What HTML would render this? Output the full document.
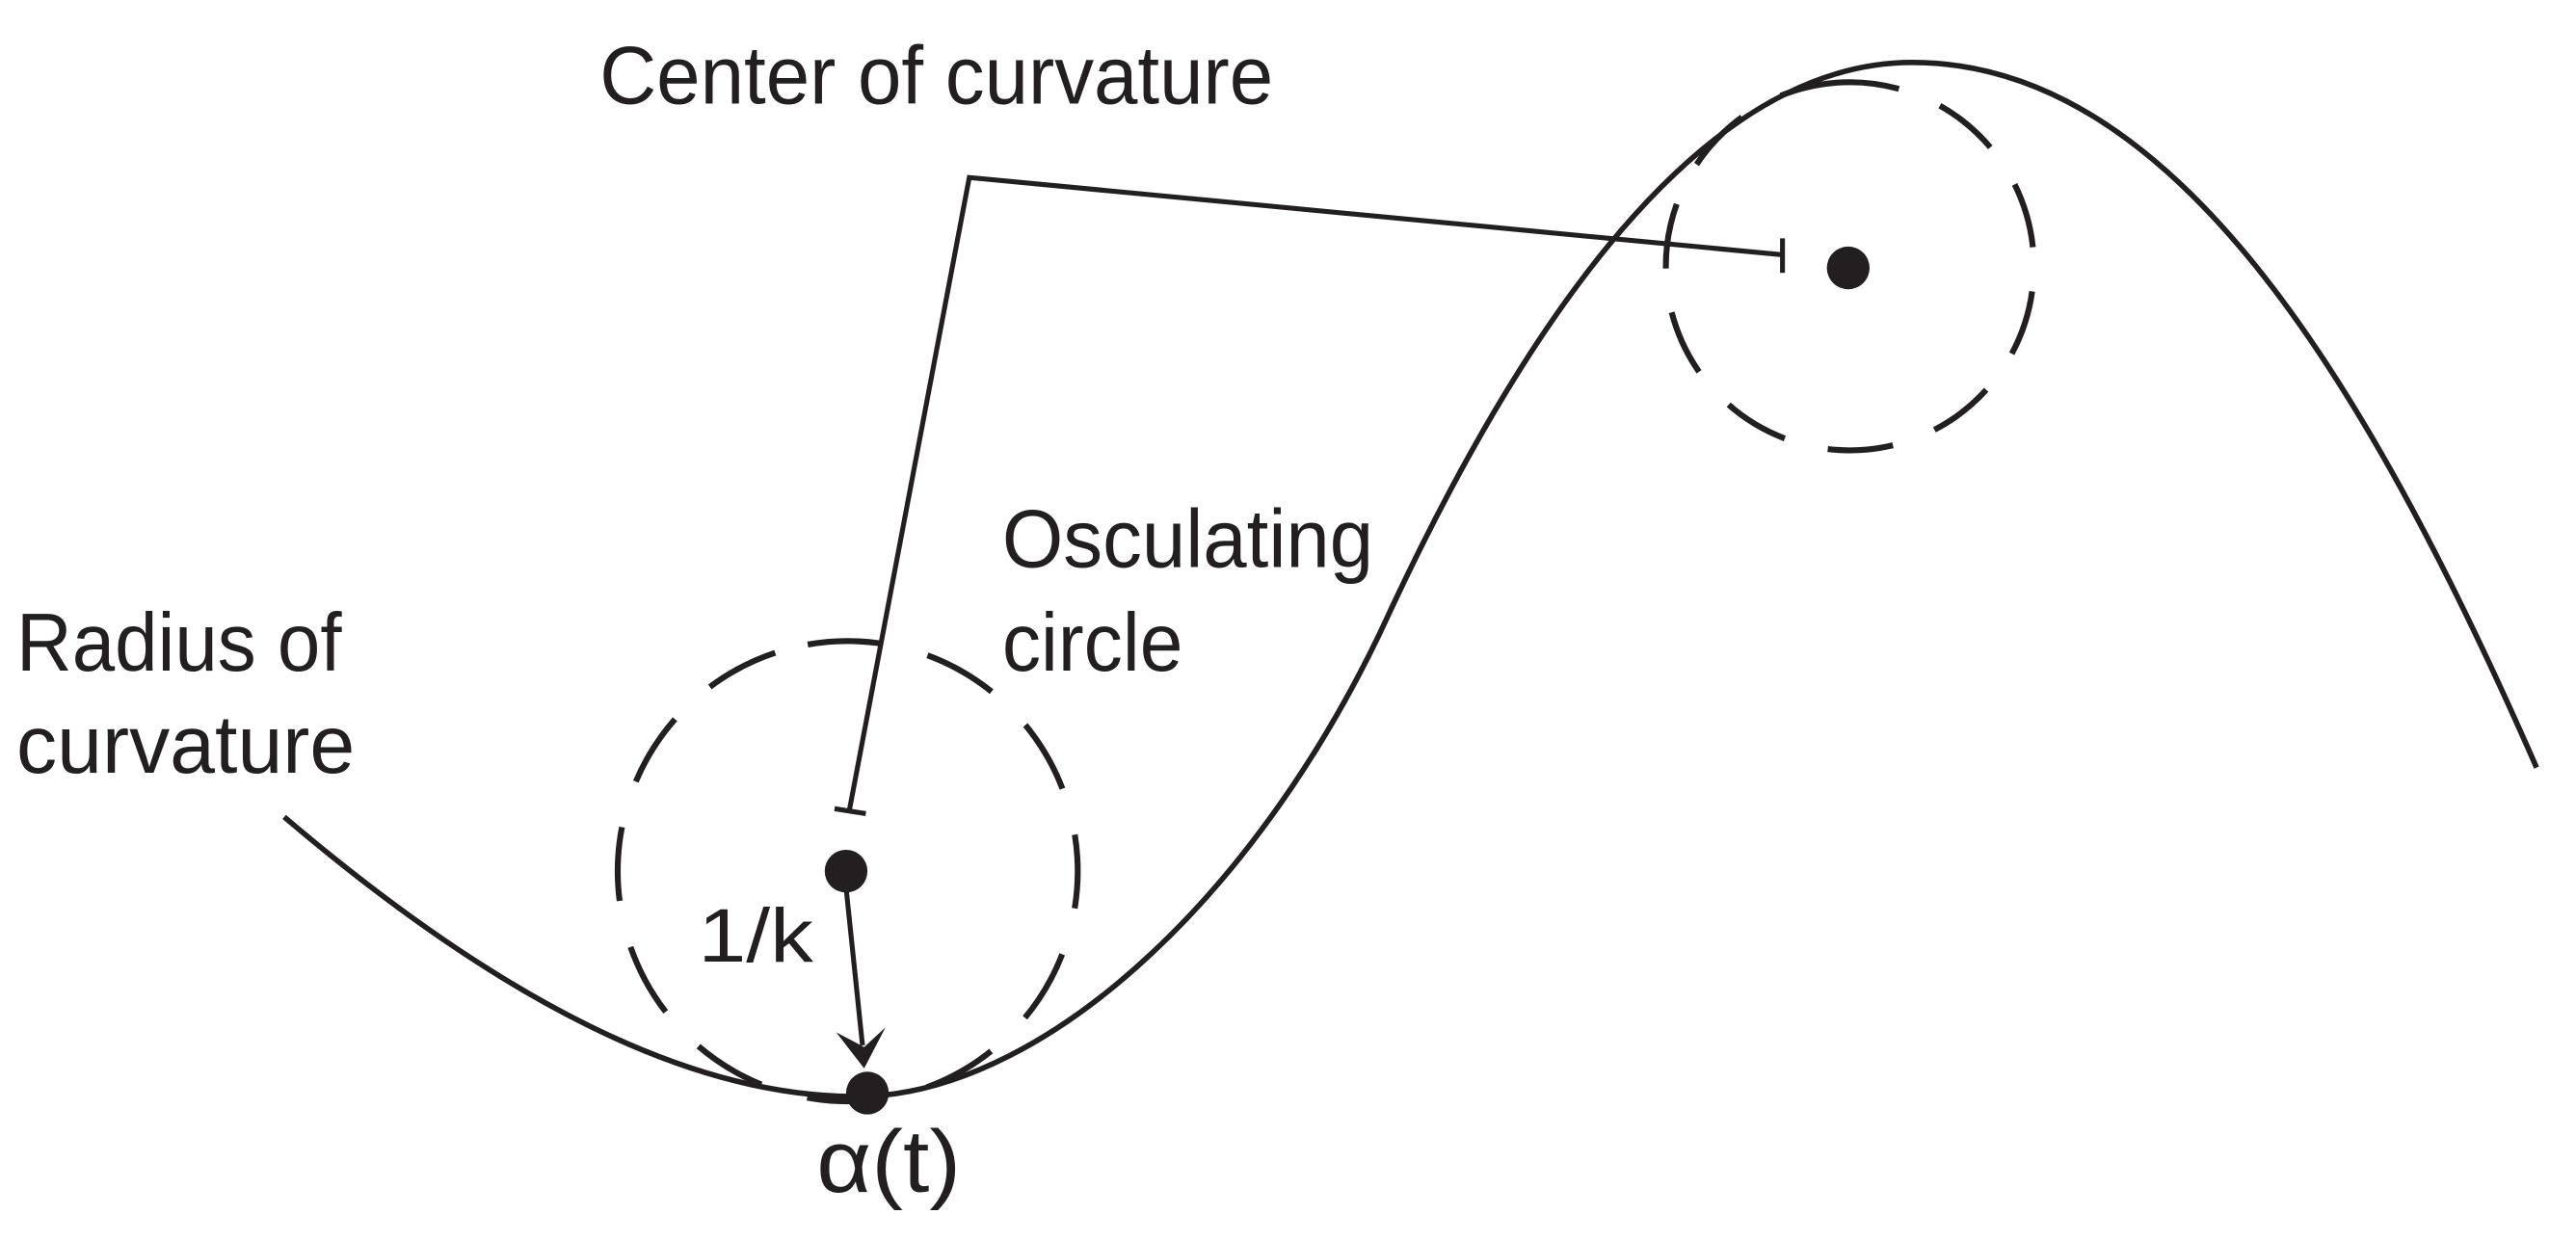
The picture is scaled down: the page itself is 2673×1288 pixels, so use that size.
<!DOCTYPE html>
<html><head><meta charset="utf-8"><style>html,body{margin:0;padding:0;background:#fff}svg{display:block}</style></head>
<body>
<svg width="2673" height="1288" viewBox="0 0 1568 755" preserveAspectRatio="none" xmlns="http://www.w3.org/2000/svg">
<g fill="none" stroke="#231f20" stroke-width="3.3">
<path d="M173,497 C300,605 420,670 528,667 C640,662 770,540 847,370 C938,176 1044,38 1164,38 C1320,38 1437,223 1544,467"/>
<circle cx="516" cy="530" r="140" stroke-width="3.6" stroke-dasharray="45 29" transform="rotate(-100 516 530)"/>
<circle cx="1126" cy="162" r="112" stroke-width="3.6" stroke-dasharray="40 27" transform="rotate(-95 1126 162)"/>
<polyline points="517,493 590,108 1085,155" stroke-width="3"/>
<line x1="508" y1="492" x2="527" y2="495" stroke-width="3"/>
<line x1="1085" y1="145" x2="1085" y2="166" stroke-width="3"/>
<line x1="515" y1="540" x2="525" y2="636" stroke-width="3"/>
</g>
<g fill="#231f20">
<path d="M509,628 L526,650 L539,625 L526,637 Z"/>
<circle cx="515" cy="530" r="13"/>
<circle cx="528" cy="665" r="13"/>
<circle cx="1125" cy="163" r="13"/>
</g>
<g fill="#231f20" font-family="Liberation Sans, sans-serif" font-size="50">
<text x="365" y="63" textLength="410" lengthAdjust="spacingAndGlyphs">Center of curvature</text>
<text x="610" y="345" textLength="226" lengthAdjust="spacingAndGlyphs">Osculating</text>
<text x="610" y="408" textLength="110" lengthAdjust="spacingAndGlyphs">circle</text>
<text x="10" y="408" textLength="198" lengthAdjust="spacingAndGlyphs">Radius of</text>
<text x="10" y="470" textLength="206" lengthAdjust="spacingAndGlyphs">curvature</text>
<text x="425" y="585" font-size="46" textLength="70" lengthAdjust="spacingAndGlyphs">1/k</text>
<text x="497" y="725" font-size="54" textLength="88" lengthAdjust="spacingAndGlyphs">α(t)</text>
</g>
</svg>
</body></html>
